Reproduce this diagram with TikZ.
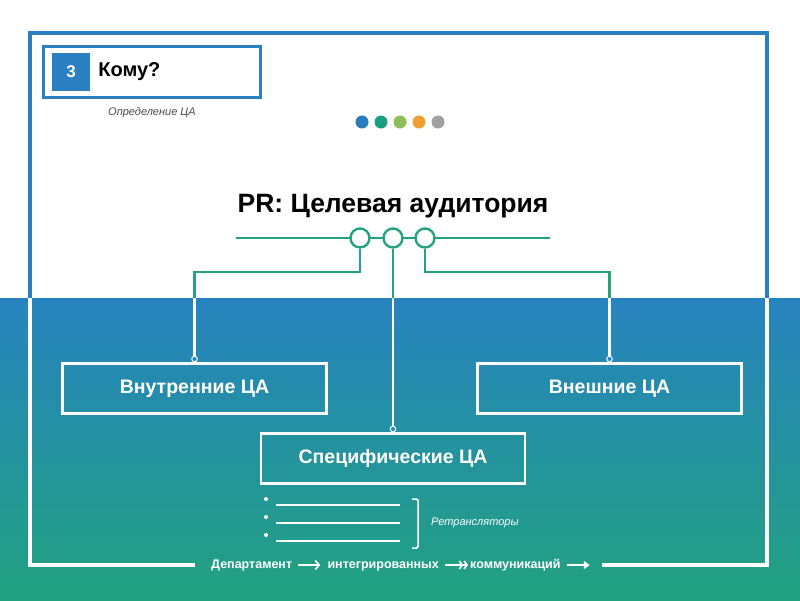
\documentclass[tikz,border=0pt]{standalone}
\usepackage{fontspec}
\setmainfont{Liberation Sans}
\usetikzlibrary{shapes,arrows.meta,positioning,fit}
\definecolor{frameblue}{RGB}{42,128,192}
\definecolor{lineteal}{RGB}{36,163,130}
\definecolor{bgtop}{RGB}{39,131,191}
\definecolor{bgbottom}{RGB}{33,162,127}
\definecolor{dotblue}{RGB}{41,124,190}
\definecolor{dotteal}{RGB}{26,158,128}
\definecolor{dotgreen}{RGB}{141,190,90}
\definecolor{dotorange}{RGB}{240,160,48}
\definecolor{dotgray}{RGB}{160,160,160}

\tikzset{
    tabox/.style={draw=white, rectangle, line width=2.5pt, minimum width=264pt, minimum height=50pt,
        text=white, font=\bfseries\fontsize{19.5}{22}\selectfont},
    hub/.style={circle, draw=lineteal, line width=2.4pt, fill=white, minimum size=19pt, inner sep=0pt},
    tip/.style={circle, draw=white, line width=1pt, fill=bgtop, minimum size=5.5pt, inner sep=0pt},
    colordot/.style={circle, minimum size=13pt, inner sep=0pt},
    flow/.style={font=\bfseries\fontsize{12.5}{14}\selectfont, text=white, inner sep=1pt,
        text height=8pt, text depth=1pt},
    flowline/.style={white, line width=1.6pt},
    branch/.style={line width=2.3pt}
}

\begin{document}
\begin{tikzpicture}[x=1pt, y=-1pt]
        % Background: white top, gradient bottom
        \useasboundingbox (0,0) rectangle (800,600);
        \fill[white] (0,0) rectangle (800,298);
        \shade[top color=bgtop, bottom color=bgbottom] (0,298) rectangle (800,600);

        % Frame
        \draw[frameblue, line width=4pt] (30,298) -- (30,33) -- (767,33) -- (767,298);
        \draw[white, line width=4pt] (30,298) -- (30,565) -- (195,565);
        \draw[white, line width=4pt] (602,565) -- (767,565) -- (767,298);

        % Title box
        \node[draw=frameblue, rectangle, line width=3pt, minimum width=217pt, minimum height=51pt] (titlebox) at (152,72) {};
        \node[fill=frameblue, minimum size=38pt, inner sep=0pt, text=white, font=\bfseries\fontsize{17}{19}\selectfont] (num) at (71,72) {3};
        \node[right=8pt of num, inner sep=0pt, font=\bfseries\fontsize{20}{22}\selectfont] (who) {Кому?};
        \node[text=black!70, font=\itshape\fontsize{11}{13}\selectfont] (subtitle) at (152,113) {Определение ЦА};

        % Colour dots
        \foreach \c [count=\i] in {dotblue,dotteal,dotgreen,dotorange,dotgray}
            \node[colordot, fill=\c] (dot\i) at (343+19*\i,122) {};

        % Heading and hub line
        \node[font=\bfseries\fontsize{26.5}{30}\selectfont] (prtitle) at (393,206) {PR: Целевая аудитория};
        \coordinate (lineL) at (236,238);
        \coordinate (lineR) at (550,238);
        \draw[lineteal, line width=2.4pt] (lineL) -- (lineR);
        \node[hub] (hubL) at (360,238) {};
        \node[hub] (hubM) at (393,238) {};
        \node[hub] (hubR) at (425,238) {};

        % Audience boxes
        \node[tabox] (intern) at (194.5,388.5) {Внутренние ЦА};
        \node[tabox] (extern) at (609.5,388.5) {Внешние ЦА};
        \node[tabox] (spec) at (393,458.5) {Специфические ЦА};
        \node[tip, above=0pt of intern] (tipL) {};
        \node[tip, above=0pt of spec] (tipM) {};
        \node[tip, above=0pt of extern] (tipR) {};

        % Connectors (teal on white, white on the gradient)
        \coordinate (bend) at (0,272);
        \draw[lineteal, branch] (hubL.south) -- (hubL.south |- bend) -| (tipL.north);
        \draw[lineteal, branch] (hubM.south) -- (tipM.north);
        \draw[lineteal, branch] (hubR.south) -- (hubR.south |- bend) -| (tipR.north);
        \begin{scope}
            \clip (0,298) rectangle (800,600);
            \draw[white, branch] (hubL.south) -- (hubL.south |- bend) -| (tipL.north);
            \draw[white, branch] (hubM.south) -- (tipM.north);
            \draw[white, branch] (hubR.south) -- (hubR.south |- bend) -| (tipR.north);
        \end{scope}

        % Relay list
        \foreach \y in {499,517,535} {
            \fill[white] (266,\y) circle (2);
            \draw[white, line width=1.2pt] (276,\y+6) -- (400,\y+6);
        }
        \draw[white, line width=1.5pt, rounded corners=1.5pt] (412,499) -- (418,499) -- (418,548) -- (412,548);
        \node[anchor=west, inner sep=0pt, text=white, font=\itshape\fontsize{11}{13}\selectfont] (relay) at (431,523) {Ретрансляторы};

        % Bottom flow
        \node[flow, anchor=west] (dept) at (210,565) {Департамент};
        \node[flow, right=33pt of dept] (integ) {интегрированных};
        \node[flow, right=29pt of integ] (comm) {коммуникаций};
        \coordinate[right=28pt of comm] (flowend);
        \draw[flowline, -{Straight Barb[length=4pt,width=9pt]}, shorten <=5pt, shorten >=6pt] (dept) -- (integ);
        \draw[flowline, -{Straight Barb[length=3pt,width=8pt] Straight Barb[length=3pt,width=8pt]}, shorten <=5pt, shorten >=1pt] (integ) -- (comm);
        \draw[flowline, -{Triangle[length=6pt,width=8pt]}, shorten <=5pt] (comm) -- (flowend);
\end{tikzpicture}
\end{document}
